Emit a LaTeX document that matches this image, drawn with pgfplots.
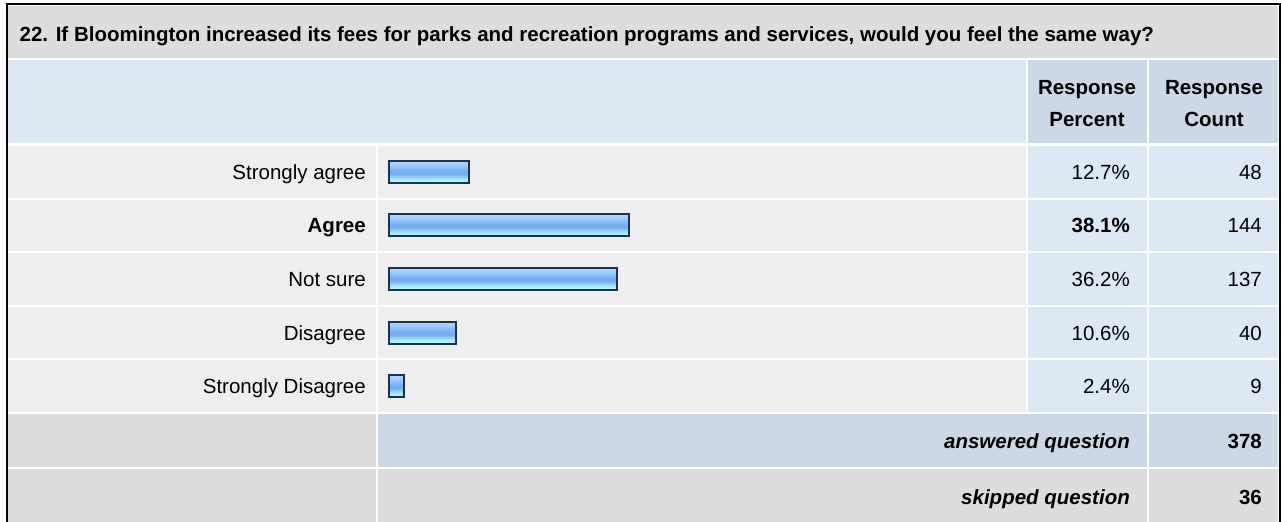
\documentclass[border=0pt]{standalone}
\usepackage{pgfplots}
\pgfplotsset{compat=1.18}
\usepackage{fontspec}
\setmainfont{Liberation Sans}
\definecolor{titlegray}{HTML}{DDDDDD}
\definecolor{rowgray}{HTML}{EEEEEE}
\definecolor{lightblue}{HTML}{DDE8F5}
\definecolor{darkblue}{HTML}{CCD8E6}
\definecolor{barborder}{HTML}{1C3050}
\pgfdeclareverticalshading{barshade}{100bp}{%
  color(0bp)=(rgb,255:red,184;green,255;blue,255);
  color(25bp)=(rgb,255:red,184;green,255;blue,255);
  color(34bp)=(rgb,255:red,168;green,232;blue,255);
  color(46bp)=(rgb,255:red,116;green,170;blue,238);
  color(53bp)=(rgb,255:red,120;green,176;blue,242);
  color(65bp)=(rgb,255:red,156;green,203;blue,255);
  color(75bp)=(rgb,255:red,176;green,216;blue,255);
  color(100bp)=(rgb,255:red,176;green,216;blue,255)}
\newcommand\rf{\fontsize{20.5bp}{24bp}\selectfont}
\newcommand\tf{\fontsize{20.5bp}{24bp}\selectfont}
\begin{document}
\begin{tikzpicture}
\begin{scope}[x=1bp,y=-1bp]
\useasboundingbox (0,0) rectangle (1281,522);
\fill[white] (0,0) rectangle (1281,522);
% title band
\fill[titlegray] (8,6) rectangle (1278,58);
% header band
\fill[lightblue] (8,60) rectangle (1026,143.5);
\fill[darkblue] (1028,60) rectangle (1147,143.5);
\fill[darkblue] (1149,60) rectangle (1278,143.5);
% data rows
\foreach \k in {0,1,2,3,4} {
  \pgfmathsetmacro\top{146+53.6*\k}
  \pgfmathsetmacro\bot{146+53.6*\k+51.6}
  \fill[rowgray] (8,\top) rectangle (376,\bot);
  \fill[rowgray] (378,\top) rectangle (1026,\bot);
  \fill[lightblue] (1028,\top) rectangle (1147,\bot);
  \fill[lightblue] (1149,\top) rectangle (1278,\bot);
}
% answered
\fill[titlegray] (8,414.5) rectangle (376,466.5);
\fill[darkblue] (378,414.5) rectangle (1147,466.5);
\fill[darkblue] (1149,414.5) rectangle (1278,466.5);
% skipped
\fill[titlegray] (8,468.5) rectangle (376,530);
\fill[titlegray] (378,468.5) rectangle (1147,530);
\fill[titlegray] (1149,468.5) rectangle (1278,530);
% outer border
\draw[black, line width=1.6bp] (6.8,540) -- (6.8,4) -- (1280,4) -- (1280,540);
% texts
\node[anchor=base west, inner sep=0pt, font=\bfseries\tf] at (19.5,41.5) {22. If Bloomington increased its fees for parks and recreation programs and services, would you feel the same way?};
\node[anchor=base, inner sep=0pt, font=\bfseries\rf] at (1087,95) {Response};
\node[anchor=base, inner sep=0pt, font=\bfseries\rf] at (1087,127) {Percent};
\node[anchor=base, inner sep=0pt, font=\bfseries\rf] at (1214,95) {Response};
\node[anchor=base, inner sep=0pt, font=\bfseries\rf] at (1214,127) {Count};
\foreach \k/\lab/\p/\c in {0/Strongly agree/12.7\%/48, 1/\textbf{Agree}/\textbf{38.1\%}/144, 2/Not sure/36.2\%/137, 3/Disagree/10.6\%/40, 4/Strongly Disagree/2.4\%/9} {
  \pgfmathsetmacro\bl{146+53.6*\k+25.8+7.6}
  \node[anchor=base east, inner sep=0pt, font=\rf] at (366,\bl) {\lab};
  \node[anchor=base east, inner sep=0pt, font=\rf] at (1130,\bl) {\p};
  \node[anchor=base east, inner sep=0pt, font=\rf] at (1262,\bl) {\c};
}
\node[anchor=base east, inner sep=0pt, font=\bfseries\itshape\rf] at (1130,448) {answered question};
\node[anchor=base east, inner sep=0pt, font=\bfseries\rf] at (1262,448) {378};
\node[anchor=base east, inner sep=0pt, font=\bfseries\itshape\rf] at (1130,504) {skipped question};
\node[anchor=base east, inner sep=0pt, font=\bfseries\rf] at (1262,504) {36};
\end{scope}
\begin{axis}[at={(378bp,-413bp)}, anchor=south west, scale only axis,
  width=648bp, height=268bp, xmin=-1.746, xmax=101.11, ymin=0.5, ymax=5.5,
  y dir=reverse, hide axis, clip=false]
\tikzset{barsty/.style={xbar, bar width=22bp, bar shift=0pt, mark=none,
  draw=barborder, line width=2bp, shade, shading=barshade}}
\addplot[barsty] coordinates {(12.7,1)};
\addplot[barsty] coordinates {(38.1,2)};
\addplot[barsty] coordinates {(36.2,3)};
\addplot[barsty] coordinates {(10.6,4)};
\addplot[barsty] coordinates {(2.4,5)};
\end{axis}
\end{tikzpicture}
\end{document}
